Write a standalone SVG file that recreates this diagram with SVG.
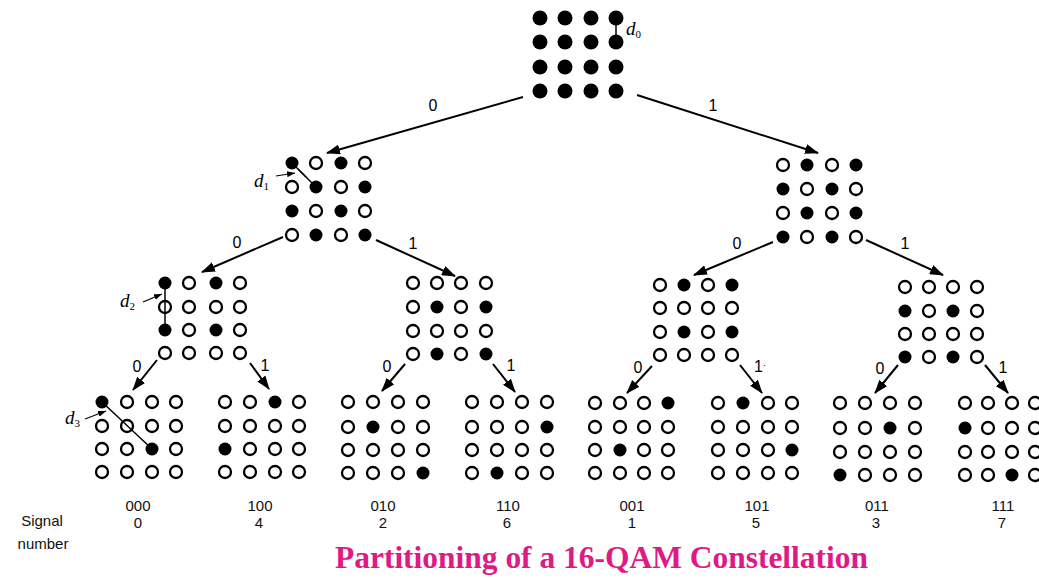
<svg xmlns="http://www.w3.org/2000/svg" width="1039" height="578" viewBox="0 0 1039 578">
  <style>
    .f { fill: #000; }
    .o { fill: #fff; stroke: #000; stroke-width: 2.3; }
    .f0 { fill: #000; }
    .edge { stroke: #000; stroke-width: 2; fill: none; marker-end: url(#arrow); }
    .dist { stroke: #000; stroke-width: 1.5; fill: none; }
    .ptr { stroke: #000; stroke-width: 1.2; fill: none; marker-end: url(#tick); }
    .bit { font-family: "Liberation Sans", Arial, sans-serif; font-size: 16px; fill: #000; text-anchor: middle; }
    .lbl { font-family: "Liberation Sans", Arial, sans-serif; font-size: 15px; fill: #111; text-anchor: middle; }
    .dl { font-family: "Liberation Serif", "Times New Roman", serif; font-style: italic; font-size: 19px; fill: #000; }
    .sub { font-size: 11px; font-style: normal; }
    .title { font-family: "Liberation Serif", "Times New Roman", serif; font-weight: bold; font-size: 31px; fill: #de1a84; }
  </style>
  <defs>
    <marker id="arrow" markerUnits="userSpaceOnUse" markerWidth="14" markerHeight="10" refX="13" refY="5" orient="auto">
      <path d="M0,0 L14,5 L0,10 z" fill="#000"/>
    </marker>
    <marker id="tick" markerUnits="userSpaceOnUse" markerWidth="8" markerHeight="6" refX="8" refY="3" orient="auto">
      <path d="M0,0 L8,3 L0,6 z" fill="#000"/>
    </marker>
  </defs>
  <rect width="1039" height="578" fill="#fff"/>

  <!-- connectors -->
  <g id="connectors">
    <line class="edge" x1="523" y1="97" x2="327" y2="153"/>
    <line class="edge" x1="637" y1="95" x2="818" y2="153"/>
    <line class="edge" x1="283" y1="237" x2="202" y2="272"/>
    <line class="edge" x1="376" y1="240" x2="455" y2="276"/>
    <line class="edge" x1="773" y1="242" x2="694" y2="275"/>
    <line class="edge" x1="866" y1="240" x2="943" y2="275"/>
    <line class="edge" x1="157" y1="360" x2="133" y2="390"/>
    <line class="edge" x1="250" y1="363" x2="269" y2="389"/>
    <line class="edge" x1="405" y1="364" x2="382" y2="391"/>
    <line class="edge" x1="493" y1="364" x2="515" y2="392"/>
    <line class="edge" x1="652" y1="366" x2="627" y2="393"/>
    <line class="edge" x1="740" y1="365" x2="762" y2="393"/>
    <line class="edge" x1="898" y1="365" x2="875" y2="393"/>
    <line class="edge" x1="985" y1="365" x2="1008" y2="393"/>
    <text class="bit" x="433" y="111">0</text>
    <text class="bit" x="713" y="111">1</text>
    <text class="bit" x="237" y="248">0</text>
    <text class="bit" x="413" y="249">1</text>
    <text class="bit" x="737" y="249">0</text>
    <text class="bit" x="905" y="249">1</text>
    <text class="bit" x="137" y="372">0</text>
    <text class="bit" x="265" y="371">1</text>
    <text class="bit" x="387" y="372">0</text>
    <text class="bit" x="511" y="371">1</text>
    <text class="bit" x="638" y="373">0</text>
    <text class="bit" x="760" y="372">1<tspan font-size="9" dy="-4">·</tspan></text>
    <text class="bit" x="880" y="374">0</text>
    <text class="bit" x="1003" y="373">1</text>
  </g>

  <!-- full 16-QAM set -->
  <g id="set-root" transform="translate(540,18)">
    <circle class="f0" cx="0" cy="0" r="7.5"/><circle class="f0" cx="25" cy="0" r="7.5"/><circle class="f0" cx="51" cy="0" r="7.5"/><circle class="f0" cx="76" cy="0" r="7.5"/>
    <circle class="f0" cx="0" cy="24" r="7.5"/><circle class="f0" cx="25" cy="24" r="7.5"/><circle class="f0" cx="51" cy="24" r="7.5"/><circle class="f0" cx="76" cy="24" r="7.5"/>
    <circle class="f0" cx="0" cy="49" r="7.5"/><circle class="f0" cx="25" cy="49" r="7.5"/><circle class="f0" cx="51" cy="49" r="7.5"/><circle class="f0" cx="76" cy="49" r="7.5"/>
    <circle class="f0" cx="0" cy="73" r="7.5"/><circle class="f0" cx="25" cy="73" r="7.5"/><circle class="f0" cx="51" cy="73" r="7.5"/><circle class="f0" cx="76" cy="73" r="7.5"/>
    <line class="dist" x1="76" y1="0" x2="76" y2="24"/>
    <text class="dl" x="86" y="17">d<tspan class="sub" dy="3">0</tspan></text>
  </g>

  <!-- subset 0 -->
  <g id="set-0" transform="translate(292,163)">
    <line class="dist" x1="0" y1="0" x2="24" y2="24"/>
    <circle class="f" cx="0" cy="0" r="6.5"/><circle class="o" cx="24" cy="0" r="6"/><circle class="f" cx="49" cy="0" r="6.5"/><circle class="o" cx="73" cy="0" r="6"/>
    <circle class="o" cx="0" cy="24" r="6"/><circle class="f" cx="24" cy="24" r="6.5"/><circle class="o" cx="49" cy="24" r="6"/><circle class="f" cx="73" cy="24" r="6.5"/>
    <circle class="f" cx="0" cy="48" r="6.5"/><circle class="o" cx="24" cy="48" r="6"/><circle class="f" cx="49" cy="48" r="6.5"/><circle class="o" cx="73" cy="48" r="6"/>
    <circle class="o" cx="0" cy="72" r="6"/><circle class="f" cx="24" cy="72" r="6.5"/><circle class="o" cx="49" cy="72" r="6"/><circle class="f" cx="73" cy="72" r="6.5"/>
    <line class="dist" x1="6" y1="6" x2="14" y2="14"/>
    <line class="ptr" x1="-16" y1="13" x2="3" y2="10"/>
    <text class="dl" x="-38" y="24">d<tspan class="sub" dy="3">1</tspan></text>
  </g>

  <!-- subset 1 -->
  <g id="set-1" transform="translate(783,165)">
    <circle class="o" cx="0" cy="0" r="6"/><circle class="f" cx="24" cy="0" r="6.5"/><circle class="o" cx="49" cy="0" r="6"/><circle class="f" cx="73" cy="0" r="6.5"/>
    <circle class="f" cx="0" cy="24" r="6.5"/><circle class="o" cx="24" cy="24" r="6"/><circle class="f" cx="49" cy="24" r="6.5"/><circle class="o" cx="73" cy="24" r="6"/>
    <circle class="o" cx="0" cy="48" r="6"/><circle class="f" cx="24" cy="48" r="6.5"/><circle class="o" cx="49" cy="48" r="6"/><circle class="f" cx="73" cy="48" r="6.5"/>
    <circle class="f" cx="0" cy="72" r="6.5"/><circle class="o" cx="24" cy="72" r="6"/><circle class="f" cx="49" cy="72" r="6.5"/><circle class="o" cx="73" cy="72" r="6"/>
  </g>

  <!-- subset 00 -->
  <g id="set-00" transform="translate(165,283)">
    <circle class="f" cx="0" cy="0" r="6.5"/><circle class="o" cx="24" cy="0" r="6"/><circle class="f" cx="51" cy="0" r="6.5"/><circle class="o" cx="75" cy="0" r="6"/>
    <circle class="o" cx="0" cy="24" r="6"/><circle class="o" cx="24" cy="24" r="6"/><circle class="o" cx="51" cy="24" r="6"/><circle class="o" cx="75" cy="24" r="6"/>
    <circle class="f" cx="0" cy="47" r="6.5"/><circle class="o" cx="24" cy="47" r="6"/><circle class="f" cx="51" cy="47" r="6.5"/><circle class="o" cx="75" cy="47" r="6"/>
    <circle class="o" cx="0" cy="70" r="6"/><circle class="o" cx="24" cy="70" r="6"/><circle class="o" cx="51" cy="70" r="6"/><circle class="o" cx="75" cy="70" r="6"/>
    <line class="dist" x1="0" y1="0" x2="0" y2="47"/>
    <line class="ptr" x1="-22" y1="19" x2="-3" y2="11"/>
    <text class="dl" x="-45" y="24">d<tspan class="sub" dy="3">2</tspan></text>
  </g>

  <!-- subset 10 -->
  <g id="set-10" transform="translate(413,283)">
    <circle class="o" cx="0" cy="0" r="6"/><circle class="o" cx="24" cy="0" r="6"/><circle class="o" cx="48" cy="0" r="6"/><circle class="o" cx="73" cy="0" r="6"/>
    <circle class="o" cx="0" cy="24" r="6"/><circle class="f" cx="24" cy="24" r="6.5"/><circle class="o" cx="48" cy="24" r="6"/><circle class="f" cx="73" cy="24" r="6.5"/>
    <circle class="o" cx="0" cy="48" r="6"/><circle class="o" cx="24" cy="48" r="6"/><circle class="o" cx="48" cy="48" r="6"/><circle class="o" cx="73" cy="48" r="6"/>
    <circle class="o" cx="0" cy="71" r="6"/><circle class="f" cx="24" cy="71" r="6.5"/><circle class="o" cx="48" cy="71" r="6"/><circle class="f" cx="73" cy="71" r="6.5"/>
  </g>

  <!-- subset 01 -->
  <g id="set-01" transform="translate(660,285)">
    <circle class="o" cx="0" cy="0" r="6"/><circle class="f" cx="24" cy="0" r="6.5"/><circle class="o" cx="48" cy="0" r="6"/><circle class="f" cx="72" cy="0" r="6.5"/>
    <circle class="o" cx="0" cy="23" r="6"/><circle class="o" cx="24" cy="23" r="6"/><circle class="o" cx="48" cy="23" r="6"/><circle class="o" cx="72" cy="23" r="6"/>
    <circle class="o" cx="0" cy="47" r="6"/><circle class="f" cx="24" cy="47" r="6.5"/><circle class="o" cx="48" cy="47" r="6"/><circle class="f" cx="72" cy="47" r="6.5"/>
    <circle class="o" cx="0" cy="70" r="6"/><circle class="o" cx="24" cy="70" r="6"/><circle class="o" cx="48" cy="70" r="6"/><circle class="o" cx="72" cy="70" r="6"/>
  </g>

  <!-- subset 11 -->
  <g id="set-11" transform="translate(905,287)">
    <circle class="o" cx="0" cy="0" r="6"/><circle class="o" cx="24" cy="0" r="6"/><circle class="o" cx="48" cy="0" r="6"/><circle class="o" cx="72" cy="0" r="6"/>
    <circle class="f" cx="0" cy="24" r="6.5"/><circle class="o" cx="24" cy="24" r="6"/><circle class="f" cx="48" cy="24" r="6.5"/><circle class="o" cx="72" cy="24" r="6"/>
    <circle class="o" cx="0" cy="47" r="6"/><circle class="o" cx="24" cy="47" r="6"/><circle class="o" cx="48" cy="47" r="6"/><circle class="o" cx="72" cy="47" r="6"/>
    <circle class="f" cx="0" cy="70" r="6.5"/><circle class="o" cx="24" cy="70" r="6"/><circle class="f" cx="48" cy="70" r="6.5"/><circle class="o" cx="72" cy="70" r="6"/>
  </g>

  <!-- leaf 000 -->
  <g id="leaf-000" transform="translate(102,402)">
    <circle class="f" cx="0" cy="0" r="6.5"/><circle class="o" cx="25" cy="0" r="6"/><circle class="o" cx="50" cy="0" r="6"/><circle class="o" cx="74" cy="0" r="6"/>
    <circle class="o" cx="0" cy="24" r="6"/><circle class="o" cx="25" cy="24" r="6"/><circle class="o" cx="50" cy="24" r="6"/><circle class="o" cx="74" cy="24" r="6"/>
    <circle class="o" cx="0" cy="47" r="6"/><circle class="o" cx="25" cy="47" r="6"/><circle class="f" cx="50" cy="47" r="6.5"/><circle class="o" cx="74" cy="47" r="6"/>
    <circle class="o" cx="0" cy="70" r="6"/><circle class="o" cx="25" cy="70" r="6"/><circle class="o" cx="50" cy="70" r="6"/><circle class="o" cx="74" cy="70" r="6"/>
    <line class="dist" x1="0" y1="0" x2="50" y2="47"/>
    <line class="ptr" x1="-17" y1="17" x2="4" y2="9"/>
    <text class="dl" x="-37" y="22">d<tspan class="sub" dy="3">3</tspan></text>
  </g>

  <!-- leaf 100 -->
  <g id="leaf-100" transform="translate(225,402)">
    <circle class="o" cx="0" cy="0" r="6"/><circle class="o" cx="25" cy="0" r="6"/><circle class="f" cx="50" cy="0" r="6.5"/><circle class="o" cx="74" cy="0" r="6"/>
    <circle class="o" cx="0" cy="24" r="6"/><circle class="o" cx="25" cy="24" r="6"/><circle class="o" cx="50" cy="24" r="6"/><circle class="o" cx="74" cy="24" r="6"/>
    <circle class="f" cx="0" cy="47" r="6.5"/><circle class="o" cx="25" cy="47" r="6"/><circle class="o" cx="50" cy="47" r="6"/><circle class="o" cx="74" cy="47" r="6"/>
    <circle class="o" cx="0" cy="70" r="6"/><circle class="o" cx="25" cy="70" r="6"/><circle class="o" cx="50" cy="70" r="6"/><circle class="o" cx="74" cy="70" r="6"/>
  </g>

  <!-- leaf 010 -->
  <g id="leaf-010" transform="translate(348,402)">
    <circle class="o" cx="0" cy="0" r="6"/><circle class="o" cx="25" cy="0" r="6"/><circle class="o" cx="50" cy="0" r="6"/><circle class="o" cx="75" cy="0" r="6"/>
    <circle class="o" cx="0" cy="25" r="6"/><circle class="f" cx="25" cy="25" r="6.5"/><circle class="o" cx="50" cy="25" r="6"/><circle class="o" cx="75" cy="25" r="6"/>
    <circle class="o" cx="0" cy="48" r="6"/><circle class="o" cx="25" cy="48" r="6"/><circle class="o" cx="50" cy="48" r="6"/><circle class="o" cx="75" cy="48" r="6"/>
    <circle class="o" cx="0" cy="71" r="6"/><circle class="o" cx="25" cy="71" r="6"/><circle class="o" cx="50" cy="71" r="6"/><circle class="f" cx="75" cy="71" r="6.5"/>
  </g>

  <!-- leaf 110 -->
  <g id="leaf-110" transform="translate(472,402)">
    <circle class="o" cx="0" cy="0" r="6"/><circle class="o" cx="25" cy="0" r="6"/><circle class="o" cx="50" cy="0" r="6"/><circle class="o" cx="75" cy="0" r="6"/>
    <circle class="o" cx="0" cy="25" r="6"/><circle class="o" cx="25" cy="25" r="6"/><circle class="o" cx="50" cy="25" r="6"/><circle class="f" cx="75" cy="25" r="6.5"/>
    <circle class="o" cx="0" cy="48" r="6"/><circle class="o" cx="25" cy="48" r="6"/><circle class="o" cx="50" cy="48" r="6"/><circle class="o" cx="75" cy="48" r="6"/>
    <circle class="o" cx="0" cy="71" r="6"/><circle class="f" cx="25" cy="71" r="6.5"/><circle class="o" cx="50" cy="71" r="6"/><circle class="o" cx="75" cy="71" r="6"/>
  </g>

  <!-- leaf 001 -->
  <g id="leaf-001" transform="translate(595,403)">
    <circle class="o" cx="0" cy="0" r="6"/><circle class="o" cx="25" cy="0" r="6"/><circle class="o" cx="49" cy="0" r="6"/><circle class="f" cx="73" cy="0" r="6.5"/>
    <circle class="o" cx="0" cy="24" r="6"/><circle class="o" cx="25" cy="24" r="6"/><circle class="o" cx="49" cy="24" r="6"/><circle class="o" cx="73" cy="24" r="6"/>
    <circle class="o" cx="0" cy="47" r="6"/><circle class="f" cx="25" cy="47" r="6.5"/><circle class="o" cx="49" cy="47" r="6"/><circle class="o" cx="73" cy="47" r="6"/>
    <circle class="o" cx="0" cy="70" r="6"/><circle class="o" cx="25" cy="70" r="6"/><circle class="o" cx="49" cy="70" r="6"/><circle class="o" cx="73" cy="70" r="6"/>
  </g>

  <!-- leaf 101 -->
  <g id="leaf-101" transform="translate(718,403)">
    <circle class="o" cx="0" cy="0" r="6"/><circle class="f" cx="25" cy="0" r="6.5"/><circle class="o" cx="50" cy="0" r="6"/><circle class="o" cx="74" cy="0" r="6"/>
    <circle class="o" cx="0" cy="24" r="6"/><circle class="o" cx="25" cy="24" r="6"/><circle class="o" cx="50" cy="24" r="6"/><circle class="o" cx="74" cy="24" r="6"/>
    <circle class="o" cx="0" cy="47" r="6"/><circle class="o" cx="25" cy="47" r="6"/><circle class="o" cx="50" cy="47" r="6"/><circle class="f" cx="74" cy="47" r="6.5"/>
    <circle class="o" cx="0" cy="70" r="6"/><circle class="o" cx="25" cy="70" r="6"/><circle class="o" cx="50" cy="70" r="6"/><circle class="o" cx="74" cy="70" r="6"/>
  </g>

  <!-- leaf 011 -->
  <g id="leaf-011" transform="translate(840,403)">
    <circle class="o" cx="0" cy="0" r="6"/><circle class="o" cx="25" cy="0" r="6"/><circle class="o" cx="50" cy="0" r="6"/><circle class="o" cx="75" cy="0" r="6"/>
    <circle class="o" cx="0" cy="25" r="6"/><circle class="o" cx="25" cy="25" r="6"/><circle class="f" cx="50" cy="25" r="6.5"/><circle class="o" cx="75" cy="25" r="6"/>
    <circle class="o" cx="0" cy="49" r="6"/><circle class="o" cx="25" cy="49" r="6"/><circle class="o" cx="50" cy="49" r="6"/><circle class="o" cx="75" cy="49" r="6"/>
    <circle class="f" cx="0" cy="72" r="6.5"/><circle class="o" cx="25" cy="72" r="6"/><circle class="o" cx="50" cy="72" r="6"/><circle class="o" cx="75" cy="72" r="6"/>
  </g>

  <!-- leaf 111 -->
  <g id="leaf-111" transform="translate(965,403)">
    <circle class="o" cx="0" cy="0" r="6"/><circle class="o" cx="23" cy="0" r="6"/><circle class="o" cx="47" cy="0" r="6"/><circle class="o" cx="70" cy="0" r="6"/>
    <circle class="f" cx="0" cy="25" r="6.5"/><circle class="o" cx="23" cy="25" r="6"/><circle class="o" cx="47" cy="25" r="6"/><circle class="o" cx="70" cy="25" r="6"/>
    <circle class="o" cx="0" cy="49" r="6"/><circle class="o" cx="23" cy="49" r="6"/><circle class="o" cx="47" cy="49" r="6"/><circle class="o" cx="70" cy="49" r="6"/>
    <circle class="o" cx="0" cy="72" r="6"/><circle class="o" cx="23" cy="72" r="6"/><circle class="f" cx="47" cy="72" r="6.5"/><circle class="o" cx="70" cy="72" r="6"/>
  </g>

  <!-- leaf labels -->
  <g id="labels">
    <text class="lbl" x="42" y="526">Signal</text>
    <text class="lbl" x="43" y="549">number</text>
    <text class="lbl" x="138" y="511">000</text><text class="lbl" x="138" y="528">0</text>
    <text class="lbl" x="260" y="511">100</text><text class="lbl" x="259" y="528">4</text>
    <text class="lbl" x="383" y="511">010</text><text class="lbl" x="383" y="528">2</text>
    <text class="lbl" x="508" y="511">110</text><text class="lbl" x="507" y="528">6</text>
    <text class="lbl" x="632" y="511">001</text><text class="lbl" x="632" y="528">1</text>
    <text class="lbl" x="757" y="511">101</text><text class="lbl" x="756" y="528">5</text>
    <text class="lbl" x="877" y="511">011</text><text class="lbl" x="876" y="528">3</text>
    <text class="lbl" x="1003" y="511">111</text><text class="lbl" x="1002" y="528">7</text>
  </g>

  <text class="title" x="335" y="568" textLength="533" lengthAdjust="spacingAndGlyphs">Partitioning of a 16-QAM Constellation</text>
</svg>
